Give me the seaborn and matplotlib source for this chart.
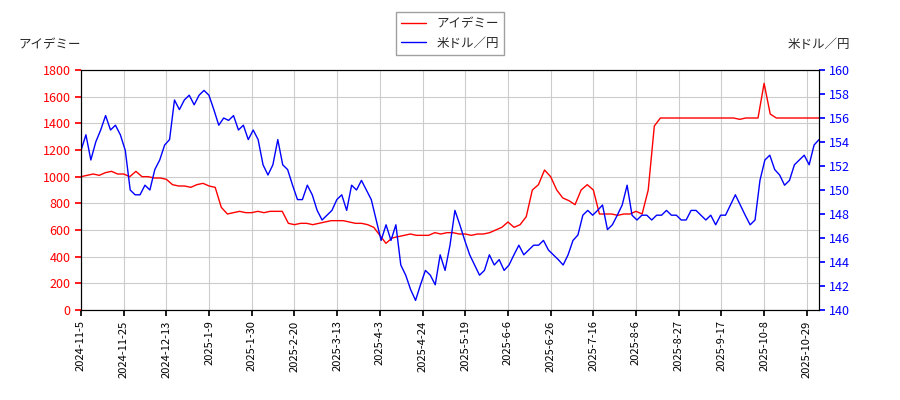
import matplotlib
matplotlib.use("Agg")
import matplotlib.pyplot as plt
import seaborn as sns
import numpy as np
import pandas as pd

sns.set_theme(style="whitegrid")
plt.rcParams['font.family'] = ['Noto Sans CJK JP', 'DejaVu Sans']

tick_labels = ["2024-11-5","2024-11-25","2024-12-13","2025-1-9","2025-1-30","2025-2-20",
               "2025-3-13","2025-4-3","2025-4-24","2025-5-19","2025-6-6","2025-6-26",
               "2025-7-16","2025-8-6","2025-8-27","2025-9-17","2025-10-8","2025-10-29"]

aidemy = [1000,1010,1020,1010,1030,1040,1020,
          1020,1000,1040,1000,1000,990,990,
          980,940,930,930,920,940,950,
          930,920,770,720,730,740,730,
          730,740,730,740,740,740,650,
          640,650,650,640,650,660,670,
          670,670,660,650,650,640,620,
          560,500,540,550,560,570,560,
          560,560,580,570,580,580,570,
          570,560,570,570,580,600,620,
          660,620,640,700,900,940,1050,
          1000,900,840,820,790,900,940,
          900,720,720,720,710,720,720,
          740,720,900,1380,1440,1440,1440,
          1440,1440,1440,1440,1440,1440,1440,
          1440,1440,1440,1430,1440,1440,1440,
          1700,1470,1440,1440,1440,1440,1440,
          1440,1440,1440]

usdjpy = [153.3,154.6,152.5,154.0,155.0,156.2,155.0,155.4,154.6,153.3,
          150.0,149.6,149.6,150.4,150.0,151.7,152.5,153.75,154.2,157.5,
          156.7,157.5,157.9,157.1,157.9,158.3,157.9,156.7,155.4,156.0,
          155.8,156.2,155.0,155.4,154.2,155.0,154.2,152.1,151.25,152.1,
          154.2,152.1,151.7,150.4,149.2,149.2,150.4,149.6,148.3,147.5,
          147.9,148.3,149.2,149.6,148.3,150.4,150.0,150.8,150.0,149.2,
          147.5,145.8,147.1,145.8,147.1,143.75,142.9,141.7,140.8,142.1,
          143.3,142.9,142.1,144.6,143.3,145.4,148.3,147.1,145.8,144.6,
          143.75,142.9,143.3,144.6,143.75,144.2,143.3,143.75,144.6,145.4,
          144.6,145.0,145.4,145.4,145.8,145.0,144.6,144.2,143.75,144.6,
          145.8,146.25,147.9,148.3,147.9,148.3,148.75,146.7,147.1,147.9,
          148.75,150.4,147.9,147.5,147.9,147.9,147.5,147.9,147.9,148.3,
          147.9,147.9,147.5,147.5,148.3,148.3,147.9,147.5,147.9,147.1,
          147.9,147.9,148.75,149.6,148.75,147.9,147.1,147.5,150.8,152.5,
          152.9,151.7,151.25,150.4,150.8,152.1,152.5,152.9,152.1,153.75,154.2]

n_days = 243
df_a = pd.DataFrame({"x": np.linspace(0, n_days-1, len(aidemy)), "y": aidemy})
df_u = pd.DataFrame({"x": np.linspace(0, n_days-1, len(usdjpy)), "y": usdjpy})

fig, ax = plt.subplots(figsize=(9, 4), dpi=100)
fig.subplots_adjust(left=0.09, right=0.91, top=0.825, bottom=0.225)
sns.lineplot(data=df_a, x="x", y="y", ax=ax, color="red", linewidth=1, label="アイデミー", legend=False)
ax2 = ax.twinx()
sns.lineplot(data=df_u, x="x", y="y", ax=ax2, color="blue", linewidth=1, label="米ドル／円", legend=False)

ax.set_xlim(0, n_days-1)
ax.set_ylim(0, 1800)
ax.set_yticks(range(0, 1801, 200))
ax2.set_ylim(140, 160)
ax2.set_yticks(range(140, 161, 2))
ax2.grid(False)
ax.set_xticks(np.arange(len(tick_labels)) * 14)
ax.set_xticklabels(tick_labels, rotation=90, fontsize=8)
ax.tick_params(axis='y', labelsize=9, colors='red', length=4, left=True)
ax2.tick_params(axis='y', labelsize=9, colors='blue', length=4, right=True)
ax.tick_params(axis='x', length=4, bottom=True, colors='black')
for a in (ax, ax2):
    for s in a.spines.values():
        s.set_color('black'); s.set_linewidth(0.8)
ax.grid(True, color='#cccccc', linewidth=0.8)
ax.set_xlabel(""); ax.set_ylabel(""); ax2.set_ylabel("")
fig.text(0.02, 0.88, "アイデミー", fontsize=9)
fig.text(0.945, 0.88, "米ドル／円", fontsize=9, ha='right')
h1, l1 = ax.get_legend_handles_labels()
h2, l2 = ax2.get_legend_handles_labels()
fig.legend(h1+h2, l1+l2, loc='upper center', bbox_to_anchor=(0.5, 0.985), fontsize=9,
           frameon=True, edgecolor='#888888', fancybox=False)
fig.savefig("out.png")
